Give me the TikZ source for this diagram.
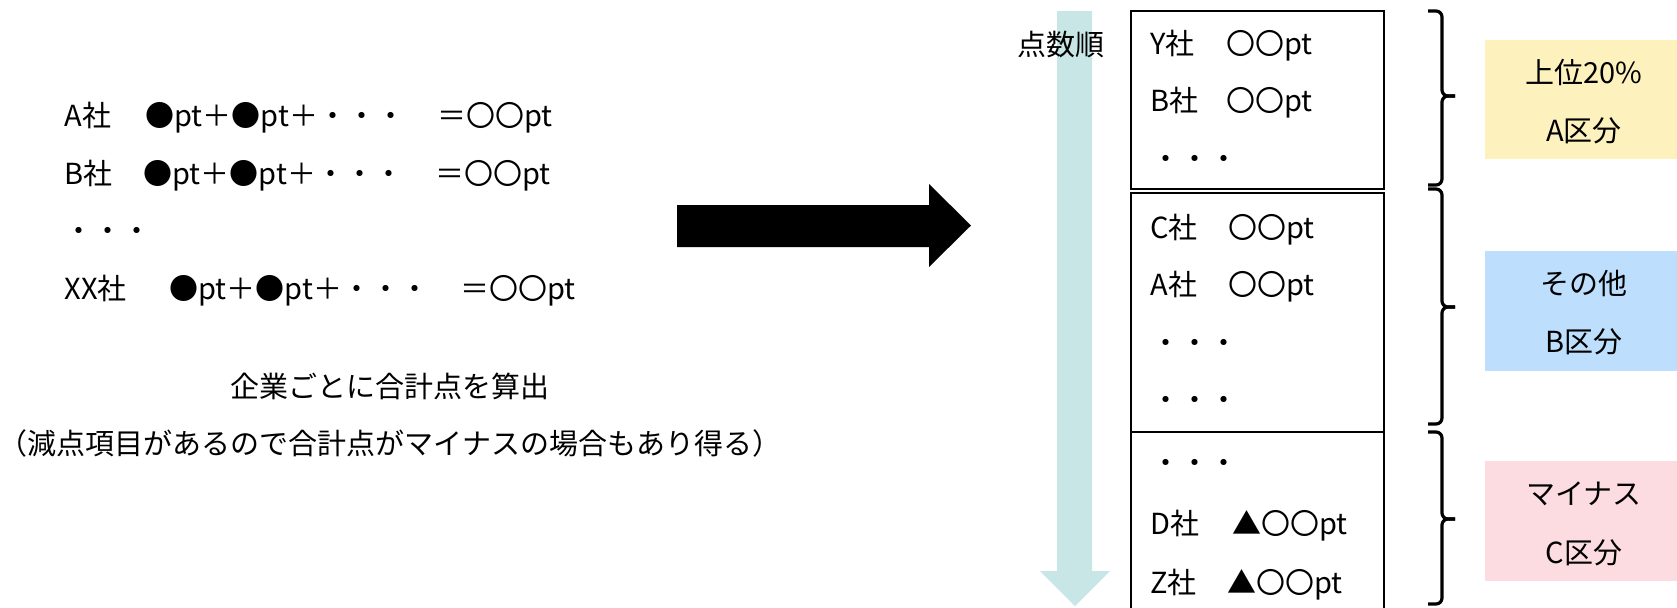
\documentclass[tikz,border=0pt]{standalone}
\usepackage{fontspec}
\setmainfont{Noto Sans CJK JP}
\definecolor{arrowteal}{RGB}{200,230,230}
\definecolor{boxyellow}{RGB}{253,242,189}
\definecolor{boxblue}{RGB}{189,222,252}
\definecolor{boxpink}{RGB}{252,220,225}
\tikzset{
  txt/.style={inner sep=0pt, anchor=base west, font=\fontsize{14.5pt}{17pt}\selectfont},
  ctxt/.style={txt, anchor=base},
  frame/.style={draw=black, line width=1pt},
  bracepath/.style={draw=black, line width=1.6pt, rounded corners=3pt},
}
\begin{document}
\begin{tikzpicture}[x=0.5pt,y=-0.5pt]
\useasboundingbox (0,0) rectangle (1677,607);
\clip (0,0) rectangle (1677,607);

% left formulas
\node[txt] (l1a) at (64,126) {A社};
\node[txt] (l1b) at (145,126) {●pt＋●pt＋・・・};
\node[txt] (l1c) at (437,126) {＝〇〇pt};
\node[txt] (l2a) at (64,184) {B社};
\node[txt] (l2b) at (143,184) {●pt＋●pt＋・・・};
\node[txt] (l2c) at (435,184) {＝〇〇pt};
\node[txt] (l3) at (64,241) {・・・};
\node[txt] (l4a) at (64,299) {XX社};
\node[txt] (l4b) at (169,299) {●pt＋●pt＋・・・};
\node[txt] (l4c) at (460,299) {＝〇〇pt};

\node[ctxt] (sum) at (390,397) {企業ごとに合計点を算出};
\node[ctxt] (note) at (390,454) {（減点項目があるので合計点がマイナスの場合もあり得る）};

% big arrow
\fill[black] (677,205) -- (929,205) -- (929,184) -- (971,225.5) -- (929,267) -- (929,247) -- (677,247) -- cycle;

% ranking arrow
\fill[arrowteal] (1057,11) -- (1092,11) -- (1092,571) -- (1110,571) -- (1075,606) -- (1040,571) -- (1057,571) -- cycle;
\node[ctxt] (order) at (1061,55) {点数順};

% list boxes
\draw[frame] (1131,11) rectangle (1384,189);
\draw[frame] (1131,193) rectangle (1384,432);
\draw[frame] (1131,432) rectangle (1384,640);

\node[txt] (y1) at (1150,54) {Y社};
\node[txt] (y2) at (1226,54) {〇〇pt};
\node[txt] (b1) at (1150,111) {B社};
\node[txt] (b2) at (1226,111) {〇〇pt};
\node[txt] (d1) at (1151,169) {・・・};
\node[txt] (c1) at (1150,238) {C社};
\node[txt] (c2) at (1228,238) {〇〇pt};
\node[txt] (a1) at (1150,295) {A社};
\node[txt] (a2) at (1228,295) {〇〇pt};
\node[txt] (d2) at (1151,353) {・・・};
\node[txt] (d3) at (1151,410) {・・・};
\node[txt] (d4) at (1151,473) {・・・};
\node[txt] (dd1) at (1150,534) {D社};
\node[txt] (dd2) at (1232,534) {▲〇〇pt};
\node[txt] (z1) at (1150,593) {Z社};
\node[txt] (z2) at (1227,593) {▲〇〇pt};

% braces
\draw[bracepath] (1428,11) -- (1442,11) -- (1442,96) -- (1455,96);
\draw[bracepath] (1455,96) -- (1442,96) -- (1442,185) -- (1428,185);
\draw[bracepath] (1428,189) -- (1442,189) -- (1442,307) -- (1455,307);
\draw[bracepath] (1455,307) -- (1442,307) -- (1442,424) -- (1428,424);
\draw[bracepath] (1428,432) -- (1442,432) -- (1442,519) -- (1455,519);
\draw[bracepath] (1455,519) -- (1442,519) -- (1442,604) -- (1428,604);

% category boxes
\fill[boxyellow] (1485,40) rectangle (1690,159);
\node[ctxt] (ya) at (1584,83) {上位20\%};
\node[ctxt] (yb) at (1584,141) {A区分};
\fill[boxblue] (1485,251) rectangle (1690,371);
\node[ctxt] (ba) at (1584,294) {その他};
\node[ctxt] (bb) at (1584,352) {B区分};
\fill[boxpink] (1485,461) rectangle (1690,581);
\node[ctxt] (pa) at (1584,504) {マイナス};
\node[ctxt] (pb) at (1584,563) {C区分};
\end{tikzpicture}
\end{document}
